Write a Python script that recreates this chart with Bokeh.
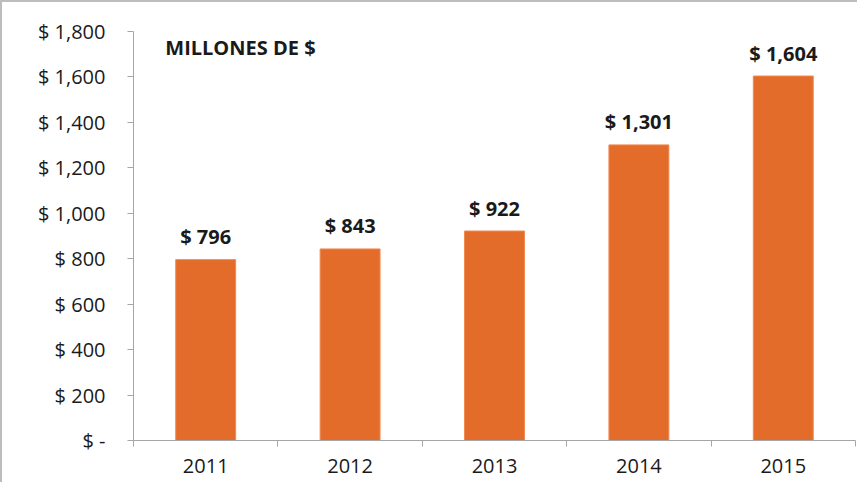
from bokeh.plotting import figure
from bokeh.models import Range1d, LinearAxis, FixedTicker, ColumnDataSource, Label
from bokeh.core.properties import value
from bokeh.embed import file_html
from bokeh.resources import INLINE

years = ["2011", "2012", "2013", "2014", "2015"]
amounts = [796, 843, 922, 1301, 1604]
y_ticks = [0, 200, 400, 600, 800, 1000, 1200, 1400, 1600, 1800]
title_text = "MILLONES DE $"

FONT = "Open Sans"
BAR = "#E46C2A"
AXIS = "#a6a6a6"
TXT = "#1a1a1a"

pos = [i + 0.5 for i in range(len(years))]
src = ColumnDataSource(dict(
    x=pos, top=amounts,
    label=[f"$ {v:,}" for v in amounts],
))

p = figure(width=857, height=482, output_backend="svg", toolbar_location=None,
           x_range=Range1d(0, len(years)), y_range=Range1d(0, 1800),
           x_axis_type=None, y_axis_type=None,
           min_border_left=131, min_border_right=4, min_border_top=29, min_border_bottom=44)
p.outline_line_color = None
p.xgrid.visible = False
p.ygrid.visible = False
p.background_fill_color = "white"
p.border_fill_color = "white"
p.styles = {"border-top": "2px solid #bdbdbd", "border-left": "2px solid #bdbdbd"}

# y axis
yax = LinearAxis(ticker=FixedTicker(ticks=y_ticks, minor_ticks=[]),
                 major_label_overrides={t: ("$ -" if t == 0 else f"$ {t:,}") for t in y_ticks})
yax.axis_line_color = AXIS
yax.major_tick_line_color = AXIS
yax.major_tick_out = 6
yax.major_tick_in = 0
yax.minor_tick_line_color = None
yax.major_label_standoff = 22
yax.major_label_text_font = FONT
yax.major_label_text_font_size = "20px"
yax.major_label_text_color = TXT
p.add_layout(yax, "left")

# x axis: labels at category centres, ticks at category boundaries
xax = LinearAxis(ticker=FixedTicker(ticks=pos, minor_ticks=list(range(len(years) + 1))),
                 major_label_overrides={x: y for x, y in zip(pos, years)})
xax.axis_line_color = AXIS
xax.major_tick_line_color = None
xax.major_tick_out = 0
xax.major_tick_in = 0
xax.minor_tick_line_color = AXIS
xax.minor_tick_out = 6
xax.minor_tick_in = 0
xax.major_label_standoff = 12
xax.major_label_text_font = FONT
xax.major_label_text_font_size = "20px"
xax.major_label_text_color = TXT
p.add_layout(xax, "below")

p.vbar(x="x", top="top", width=0.415, bottom=0, source=src,
       fill_color=BAR, line_color="#F08A50", line_width=1)

p.text(x="x", y="top", text="label", source=src, text_align="center",
       text_baseline="alphabetic", y_offset=-23,
       text_font=value(FONT), text_font_style="bold", text_font_size="20px",
       text_color=TXT)

p.add_layout(Label(x=0.22, y=1730, text=title_text, text_font=FONT,
                   text_font_style="bold", text_font_size="20px",
                   text_color=TXT, text_baseline="alphabetic"))

open("out.html", "w").write(file_html(p, INLINE))
